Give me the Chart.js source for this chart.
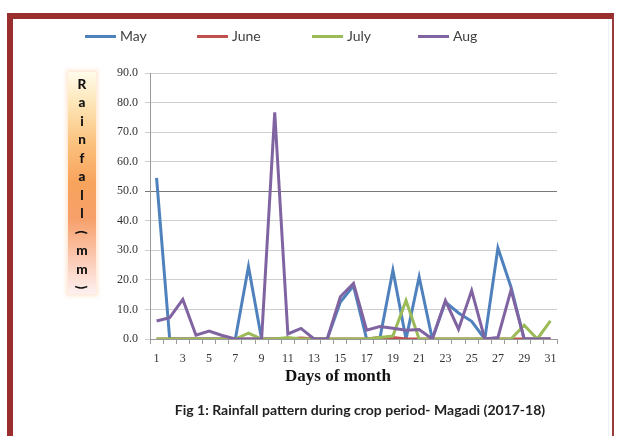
<!DOCTYPE html>
<html>
<head>
<meta charset="utf-8">
<script src="https://cdn.jsdelivr.net/npm/chart.js@4.4.1/dist/chart.umd.min.js"></script>
<style>
  html,body{margin:0;padding:0;background:#fff;}
  body{width:622px;height:436px;position:relative;overflow:hidden;}
  #frame{position:absolute;left:7px;top:13px;width:607px;height:430px;border-top:6px solid #9a2e2e;border-left:6px solid #9a2e2e;border-right:2px solid #9a3a3a;background:#fff;box-sizing:border-box;}
  #inner{position:absolute;left:0;right:3px;top:0;bottom:0;border-right:1px solid #eef3f6;}
  canvas{position:absolute;left:12px;top:20px;}
  #legend{position:absolute;top:27px;left:0;height:18px;font-family:Lato,"Open Sans",sans-serif;font-size:14px;color:#404040;}
  .li{position:absolute;top:0;white-space:nowrap;line-height:18px;}
  .li span.sw{display:inline-block;width:31px;height:3px;vertical-align:middle;margin-right:4px;position:relative;top:-1px;}
  #ytitle{position:absolute;left:68px;top:72px;width:28px;height:222px;
    background:linear-gradient(to bottom,#fffbea 0%,#fde6b8 14%,#fbc27e 32%,#f8a35c 50%,#f7a06a 66%,#fbc9b2 84%,#fdf1f0 100%);
    box-shadow:0 0 4px 2px rgba(253,220,190,0.7);filter:blur(0.3px);}
  #yletters{position:absolute;left:68px;top:74.75px;width:28px;font-family:Lato,"Liberation Sans",sans-serif;font-weight:900;font-size:13.5px;color:#111;text-align:center;}
  #yletters div{height:18.5px;line-height:18.5px;}
  #yletters div.rot{transform:rotate(90deg);}
  #xtitle{position:absolute;left:238px;width:200px;top:366px;text-align:center;font-family:"Liberation Serif","DejaVu Serif",serif;font-weight:bold;font-size:17px;color:#111;line-height:20px;}
  #caption{position:absolute;left:120px;width:480px;top:401px;text-align:center;font-family:Lato,"Open Sans",sans-serif;font-weight:bold;font-size:14px;color:#222;line-height:18px;}
</style>
</head>
<body>
<div id="frame"><div id="inner"></div></div>
<canvas id="c" width="600" height="410"></canvas>
<div id="legend"></div>
<div id="ytitle"></div>
<div id="yletters"></div>
<div id="xtitle">Days of month</div>
<div id="caption">Fig 1: Rainfall pattern during crop period- Magadi (2017-18)</div>
<script>
// ---- data ----
const days = ["1","2","3","4","5","6","7","8","9","10","11","12","13","14","15","16","17","18","19","20","21","22","23","24","25","26","27","28","29","30","31"];
const seriesNames = ["May","June","July","Aug"];
const may  = [54.5,0,0,0,0,0,0,24.5,0,0,0,0,0,0,12.5,18,0,0,23.3,0,21,0,12.5,8.8,6,0,30.8,17.5,0,0,0];
const june = [0,0,0,0,0,0,0,0,0,0,0,0.3,0,0,0,0,0,0.5,0.5,0,0,0,0,0,0,0,0,0,0,0,0];
const july = [0,0,0,0,0,0,0,2,0,0,0.5,0,0,0,0,0,0,0.5,1,13,0,0,0,0,0,0,0,0,4.7,0,6.1];
const aug  = [6.1,7.2,13.4,1.3,2.7,1.2,0,0,0,76.7,1.7,3.6,0,0,14.3,18.8,3,4.2,3.6,3,3.2,0,13,3.3,16.4,0,0.5,16.6,0,0,0];
const yTicks = [0,10,20,30,40,50,60,70,80,90];
const yTitle = "Rainfall(mm)";
// ---- styles ----
const colors = ["#4f81bd","#c0504d","#9bbb59","#8064a2"];
const values = [may, june, july, aug];
const legendX = [85,197,312,418];

// legend (HTML)
const lg = document.getElementById('legend');
seriesNames.forEach((n,i)=>{
  const d = document.createElement('div');
  d.className='li'; d.style.left = legendX[i]+'px';
  d.innerHTML = '<span class="sw" style="background:'+colors[i]+'"></span>'+n;
  lg.appendChild(d);
});
// vertical y title letters
const yl = document.getElementById('yletters');
for (const ch of yTitle) {
  const d = document.createElement('div');
  d.textContent = ch;
  if (ch==='('||ch===')') d.className='rot';
  yl.appendChild(d);
}

new Chart(document.getElementById('c'), {
  type: 'line',
  data: {
    labels: days,
    datasets: seriesNames.map((n,i)=>({
      label: n, data: values[i], borderColor: colors[i], backgroundColor: colors[i],
      borderWidth: 3, pointRadius: 0, tension: 0, fill: false, order: 3 - i
    }))
  },
  options: {
    responsive: false, animation: false,
    layout: { padding: { left: 0, right: 55, top: 53, bottom: 45 } },
    plugins: { legend: { display: false }, tooltip: { enabled: false }, title: { display: false } },
    scales: {
      x: {
        type: 'category', offset: true,
        afterFit: s => { s.height = 46; },
        grid: { display: true, drawOnChartArea: false, drawTicks: true, tickLength: 5, offset: true, color: '#9a9a9a' },
        border: { color: '#9a9a9a' },
        ticks: {
          autoSkip: false, maxRotation: 0, padding: 8, color: '#333',
          font: { family: '"Liberation Serif","DejaVu Serif",serif', size: 12 },
          callback: (v, idx) => (idx % 2 === 0 ? days[idx] : '')
        }
      },
      y: {
        min: 0, max: 90,
        afterFit: s => { s.width = 138; },
        afterBuildTicks: s => { s.ticks = yTicks.map(v => ({ value: v })); },
        grid: { color: c => (c.tick && c.tick.value === 50 ? '#7a7a7a' : '#cfcfcf'), tickLength: 5, drawTicks: true, lineWidth: 1 },
        border: { color: '#9a9a9a' },
        ticks: {
          padding: 7, color: '#333',
          font: { family: '"Liberation Serif","DejaVu Serif",serif', size: 12 },
          callback: v => Number(v).toFixed(1)
        }
      }
    }
  }
});
</script>
</body>
</html>
